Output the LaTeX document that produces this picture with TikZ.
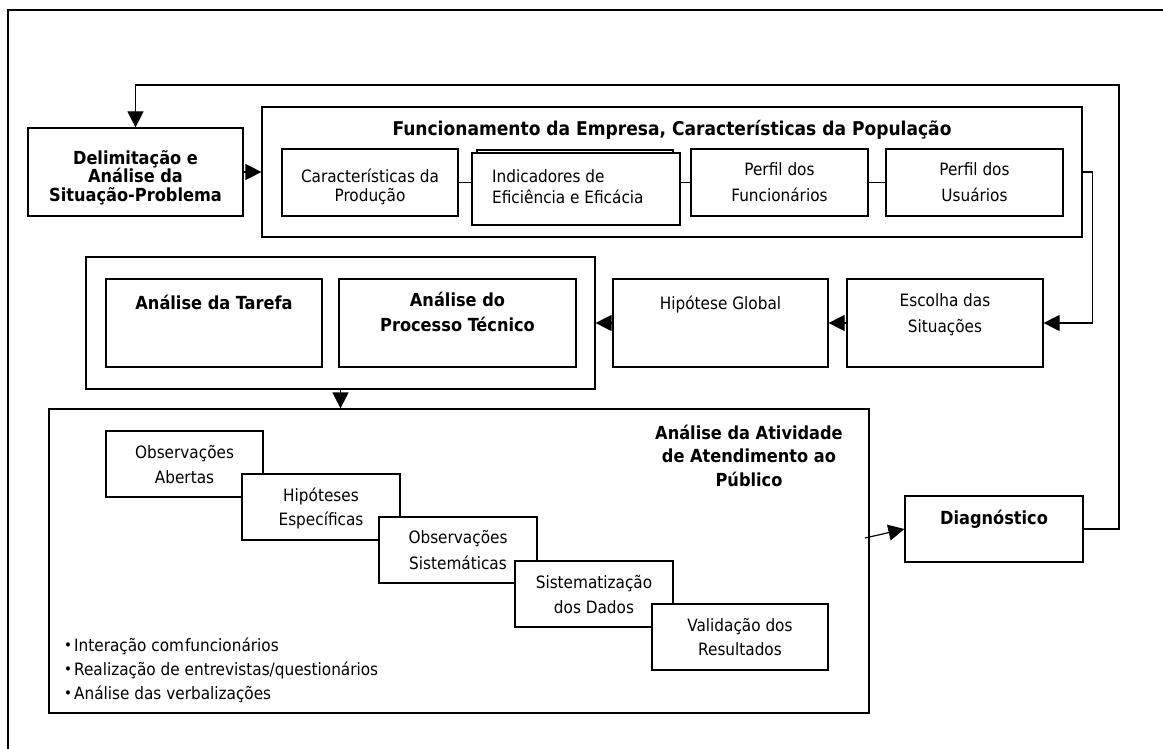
\documentclass[tikz,border=0pt]{standalone}
\usepackage{fontspec}
\setmainfont{DejaVu Sans Condensed}
\usetikzlibrary{arrows.meta,calc}
\tikzset{
  box/.style={draw, line width=1.2pt, fill=white, inner sep=0pt, rectangle},
  lbl/.style={inner sep=0pt, align=center, text height=12pt, text depth=0pt},
  reg/.style={font=\fontsize{17}{#1}\selectfont},
  bld/.style={font=\bfseries\fontsize{18}{#1}\selectfont},
  arr/.style={-{Triangle[length=16pt,width=16pt]}, line width=1.2pt},
  ln/.style={line width=1.2pt},
}
\newcommand{\mybul}{\raisebox{0.5pt}{\fontsize{15}{15}\selectfont\textbullet}\hspace{2pt}}
\begin{document}
\begin{tikzpicture}[x=1pt,y=-1pt]
\useasboundingbox (0,0) rectangle (1163,749);
% outer frame
\draw[line width=1.5pt] (8,770) -- (8,10) -- (1180,10);

% top row
\node[box, minimum width=215, minimum height=88] (delim) at (135.5,172) {};
\node[lbl, bld=19] (delimT) at (135.5,196) {Delimitação e\\Análise da\\Situação-Problema};
\node[box, minimum width=820, minimum height=130] (funcbox) at (672,172) {};
\node[lbl, font=\bfseries\fontsize{19}{19}\selectfont] (funcT) at (672,130) {Funcionamento da Empresa, Características da População};
\node[box, minimum width=176, minimum height=67] (prod) at (370,182.5) {};
\node[lbl, reg=20] (prodT) at (370,196) {Características da\\Produção};
\node[box, minimum width=196, minimum height=50] (indback) at (575,175) {};
\node[box, minimum width=208, minimum height=72] (ind) at (576,189) {};
\node[lbl, reg=21, align=left, anchor=west] (indT) at (492,198) {Indicadores de\\Eficiência e Eficácia};
\node[box, minimum width=177, minimum height=67] (func) at (779.5,182.5) {};
\node[lbl, reg=26] (funcT2) at (779.5,196) {Perfil dos\\Funcionários};
\node[box, minimum width=177, minimum height=67] (usu) at (974.5,182.5) {};
\node[lbl, reg=26] (usuT) at (974.5,196) {Perfil dos\\Usuários};

\draw[ln] (prod.east) -- (prod.east -| ind.west);
\draw[ln] (func.west -| ind.east) -- (func.west);
\draw[ln] (func.east) -- (usu.west);
\draw[arr] (delim.east) -- (delim.east -| funcbox.west);

% middle row
\node[box, minimum width=509, minimum height=132] (group) at (340.5,323) {};
\node[box, minimum width=216, minimum height=88] (tarefa) at (214,323) {};
\node[lbl, bld=25] (tarefaT) at (214,303) {Análise da Tarefa};
\node[box, minimum width=237, minimum height=88] (proc) at (457.5,323) {};
\node[lbl, bld=25] (procT) at (457.5,325) {Análise do\\Processo Técnico};
\node[box, minimum width=215, minimum height=88] (hip) at (720.5,323) {};
\node[lbl, reg=25] (hipT) at (720.5,303) {Hipótese Global};
\node[box, minimum width=196, minimum height=88] (esc) at (945,323) {};
\node[lbl, reg=26] (escT) at (945,326) {Escolha das\\Situações};

\draw[arr] (funcbox.east) -- ++(10,0) |- (esc.east);
\draw[arr] (esc.west) -- (hip.east);
\draw[arr] (hip.west) -- (hip.west -| group.east);

% bottom
\node[box, minimum width=820, minimum height=304] (big) at (459,561) {};
\draw[arr] (group.south) -- (group.south |- big.north);
\node[lbl, bld=23.5] (bigT) at (749,480) {Análise da Atividade\\de Atendimento ao\\Público};

\node[box, minimum width=157, minimum height=66] (oa) at (184.5,464) {};
\node[lbl, reg=25] (oaT) at (184.5,477) {Observações\\Abertas};
\node[box, minimum width=158, minimum height=66] (he) at (321,507) {};
\node[lbl, reg=24] (heT) at (321,519) {Hipóteses\\Específicas};
\node[box, minimum width=158, minimum height=66] (os) at (458,550) {};
\node[lbl, reg=26] (osT) at (458,563) {Observações\\Sistemáticas};
\node[box, minimum width=158, minimum height=66] (sd) at (594,594) {};
\node[lbl, reg=25] (sdT) at (594,607) {Sistematização\\dos Dados};
\node[box, minimum width=176, minimum height=66] (vr) at (740,637) {};
\node[lbl, reg=24] (vrT) at (740,649) {Validação dos\\Resultados};

\node[lbl, reg=24, align=left, anchor=west] (bul) at (64,693)
  {\mybul Interação com\hspace{1pt}funcionários\\
   \mybul Realização de entrevistas/questionários\\
   \mybul Análise das verbalizações};

\node[box, minimum width=178, minimum height=66] (diag) at (994,529) {};
\node[lbl, bld=20] (diagT) at (994,518) {Diagnóstico};
\coordinate (ds) at (865,538);
\draw[arr] (ds) -- (diag.west);

% feedback loop
\coordinate (fbR) at (1119,85);
\draw[arr] (diag.east) -| (fbR) -| (delim.north);
\end{tikzpicture}
\end{document}
